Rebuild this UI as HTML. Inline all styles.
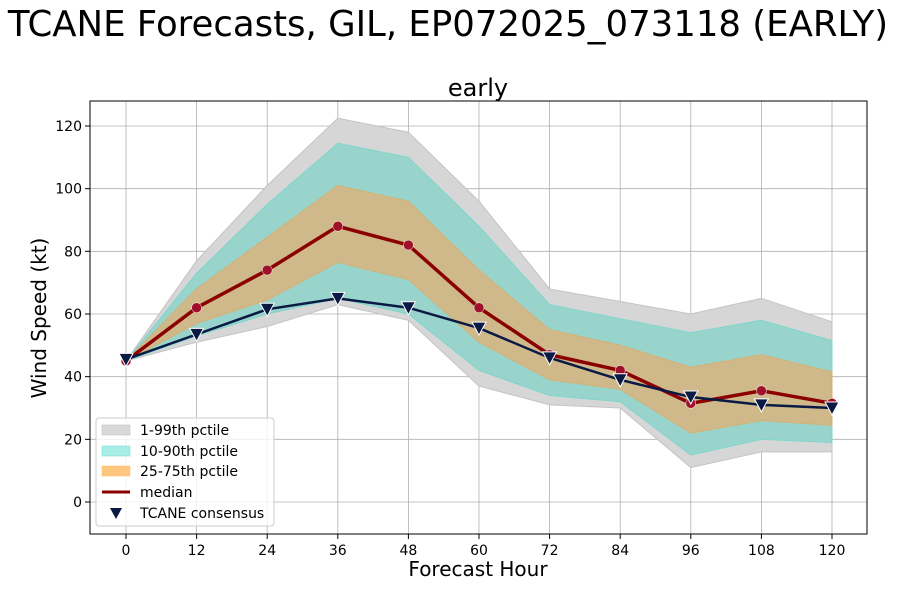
<!DOCTYPE html>
<html><head><meta charset="utf-8"><style>
body{margin:0;background:#fff;}
svg text{font-family:"DejaVu Sans","Liberation Sans",sans-serif;}
</style></head><body>
<svg id="chart" width="900" height="587" xmlns="http://www.w3.org/2000/svg">
<text x="448" y="36" font-size="35.5" text-anchor="middle">TCANE Forecasts, GIL, EP072025_073118 (EARLY)</text>
<text x="478" y="96" font-size="24" text-anchor="middle">early</text>
<g id="grid"></g><g id="bands"></g><g id="lines"></g>
<rect x="90" y="101" width="777" height="433" fill="none" stroke="#000" stroke-width="1"/>
<g id="axes"></g>
<text x="478" y="576" font-size="20" text-anchor="middle">Forecast Hour</text>
<text transform="translate(46,318) rotate(-90)" font-size="20" text-anchor="middle">Wind Speed (kt)</text>
<g>
<rect x="96" y="418" width="178" height="108" fill="#fff" fill-opacity="0.8" stroke="#ccc" rx="3"/>
<rect x="102" y="425" width="28" height="10" fill="#d9d9d9" stroke="#bbb" stroke-width="0.5"/>
<text x="140" y="435" font-size="14">1-99th pctile</text>
<rect x="102" y="446" width="28" height="10" fill="#a8ede6" stroke="#7dd" stroke-width="0.5"/>
<text x="140" y="456" font-size="14">10-90th pctile</text>
<rect x="102" y="466" width="28" height="10" fill="#ffc680" stroke="#fb6" stroke-width="0.5"/>
<text x="140" y="476" font-size="14">25-75th pctile</text>
<line x1="102" y1="492" x2="130" y2="492" stroke="#8b0000" stroke-width="3"/>
<text x="140" y="497" font-size="14">median</text>
<path d="M110,508 L122,508 L116,519 Z" fill="#0b1a45"/>
<text x="140" y="518" font-size="14">TCANE consensus</text>
</g>
</svg>
<script>
const hours=[0,12,24,36,48,60,72,84,96,108,120];
const p99=[45,77,101,122.5,118,96,68,64,60,65,57.5];
const p01=[45,51,56,63,58,37,31,30,11,16,16];
const p90=[45,73,95,114.5,110,88,63,58.5,54,58,51.5];
const p10=[45,53,60,65,60,42,34,32,15,20,19];
const p75=[45,68,84.5,101,96,74,55,50,43,47,41.5];
const p25=[45,57,64.5,76.5,71,51,39,36,22,26,24.5];
const median=[45,62,74,88,82,62,47,42,31.5,35.5,31.5];
const consensus=[45.5,53.5,61.5,65,62,55.5,46,39,33.5,31,30];
const yTicks=[0,20,40,60,80,100,120];
const NS="http://www.w3.org/2000/svg";
const X=h=>126+(h/120)*706;
const Y=v=>502-(v/120)*376;
function mk(tag,attrs,parent){const e=document.createElementNS(NS,tag);for(const k in attrs)e.setAttribute(k,attrs[k]);document.getElementById(parent).appendChild(e);return e;}
hours.forEach(h=>{
 const g=mk('line',{x1:X(h),x2:X(h),y1:101,y2:534,stroke:'#b0b0b0','stroke-width':0.8},'grid');
 
 
 const t=mk('line',{x1:X(h),x2:X(h),y1:534,y2:539,stroke:'#000'},'axes');
 
 
 const l=mk('text',{x:X(h),y:555,'font-size':14,'text-anchor':'middle'},'axes');l.textContent=h;
 
 
});
yTicks.forEach(v=>{
 const g=mk('line',{x1:90,x2:867,y1:Y(v),y2:Y(v),stroke:'#b0b0b0','stroke-width':0.8},'grid');
 
 
 const t=mk('line',{x1:85,x2:90,y1:Y(v),y2:Y(v),stroke:'#000'},'axes');
 
 
 const l=mk('text',{x:82,y:Y(v)+5,'font-size':14,'text-anchor':'end'},'axes');l.textContent=v;
 
 
});
function band(up,lo,fill,stroke,name){
 let d='M'+hours.map((h,i)=>X(h)+','+Y(up[i])).join(' L');
 d+=' L'+hours.slice().reverse().map((h,j)=>{const i=hours.length-1-j;return X(h)+','+Y(lo[i]);}).join(' L')+' Z';
 const p=mk('path',{d:d,fill:fill,stroke:stroke,'stroke-width':1},'bands');
 
 
}
band(p99,p01,'#d6d6d6','#c4c4c4','band-1-99');
band(p90,p10,'#98d4cc','#7fd6cc','band-10-90');
band(p75,p25,'#cfb98b','#d6b070','band-25-75');
const ml=mk('polyline',{points:hours.map((h,i)=>X(h)+','+Y(median[i])).join(' '),fill:'none',stroke:'#8b0000','stroke-width':3.5},'lines');


const cl=mk('polyline',{points:hours.map((h,i)=>X(h)+','+Y(consensus[i])).join(' '),fill:'none',stroke:'#0b1a45','stroke-width':2.5},'lines');


hours.forEach((h,i)=>{
 const c=mk('circle',{cx:X(h),cy:Y(median[i]),r:5,fill:'#a0102a',stroke:'#fff','stroke-width':0.5},'lines');
 
 
});
hours.forEach((h,i)=>{
 const x=X(h),y=Y(consensus[i]);
 const p=mk('path',{d:`M${x-7},${y-6} L${x+7},${y-6} L${x},${y+7} Z`,fill:'#0b1a45',stroke:'#fff','stroke-width':1},'lines');
 
 
});
</script>
</body></html>
